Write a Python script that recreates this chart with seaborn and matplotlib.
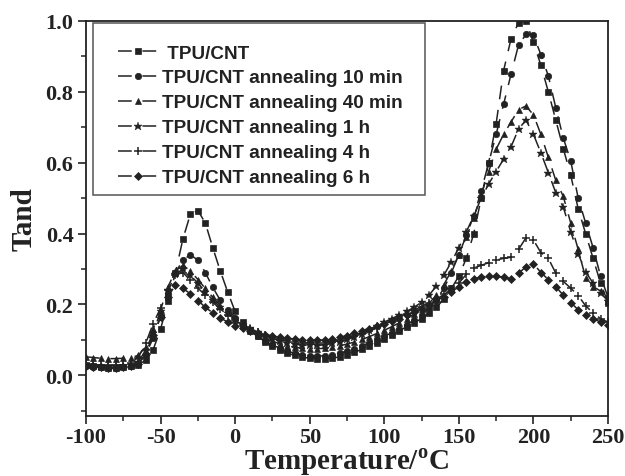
import matplotlib
matplotlib.use("Agg")
import matplotlib.pyplot as plt
from matplotlib.patches import Rectangle
from matplotlib.ticker import MultipleLocator
import seaborn as sns

# Temperature grid (°C) shared by all six DMA runs
temperature = list(range(-100, 255, 5))

tpu_cnt = [
    0.028, 0.025, 0.022, 0.021, 0.021, 0.022, 0.025, 0.030,
    0.042, 0.072, 0.130, 0.210, 0.290, 0.385, 0.455, 0.465, 0.430, 0.360, 0.295, 0.235,
    0.180, 0.150, 0.128, 0.110, 0.095, 0.082, 0.071, 0.062, 0.056, 0.051,
    0.048, 0.046, 0.046, 0.048, 0.052, 0.058, 0.065, 0.073, 0.082, 0.092,
    0.102, 0.113, 0.125, 0.137, 0.148, 0.160, 0.175, 0.192, 0.215, 0.245,
    0.280, 0.330, 0.400, 0.500, 0.600, 0.710, 0.860, 0.950, 0.995, 1.000,
    0.940, 0.875, 0.800, 0.720, 0.640, 0.565, 0.470, 0.400, 0.330, 0.260, 0.205,
]
anneal_10min = [
    0.026, 0.024, 0.022, 0.021, 0.021, 0.022, 0.025, 0.032,
    0.058, 0.105, 0.165, 0.230, 0.290, 0.325, 0.340, 0.325, 0.290, 0.248, 0.212, 0.185,
    0.163, 0.143, 0.125, 0.110, 0.097, 0.086, 0.076, 0.068, 0.062, 0.058,
    0.055, 0.054, 0.055, 0.058, 0.062, 0.068, 0.075, 0.083, 0.092, 0.101,
    0.110, 0.120, 0.131, 0.143, 0.155, 0.170, 0.190, 0.215, 0.245, 0.290,
    0.340, 0.395, 0.450, 0.520, 0.600, 0.680, 0.765, 0.850, 0.932, 0.962,
    0.960, 0.905, 0.845, 0.755, 0.670, 0.605, 0.500, 0.430, 0.360, 0.280, 0.220,
]
anneal_40min = [
    0.052, 0.050, 0.048, 0.047, 0.047, 0.048, 0.050, 0.056,
    0.080, 0.130, 0.185, 0.250, 0.295, 0.310, 0.295, 0.270, 0.245, 0.220, 0.196, 0.175,
    0.156, 0.140, 0.126, 0.114, 0.104, 0.096, 0.089, 0.083, 0.079, 0.076,
    0.075, 0.075, 0.076, 0.079, 0.083, 0.088, 0.094, 0.101, 0.109, 0.118,
    0.127, 0.137, 0.148, 0.160, 0.172, 0.186, 0.203, 0.226, 0.256, 0.295,
    0.340, 0.390, 0.445, 0.510, 0.575, 0.638, 0.680, 0.715, 0.750, 0.760,
    0.735, 0.680, 0.615, 0.550, 0.505, 0.430, 0.355, 0.275, 0.250, 0.238, 0.228,
]
anneal_1h = [
    0.030, 0.028, 0.027, 0.026, 0.026, 0.027, 0.030, 0.038,
    0.070, 0.120, 0.180, 0.240, 0.285, 0.300, 0.282, 0.260, 0.236, 0.212, 0.192, 0.175,
    0.160, 0.146, 0.133, 0.122, 0.112, 0.104, 0.097, 0.092, 0.088, 0.085,
    0.084, 0.084, 0.086, 0.090, 0.095, 0.101, 0.108, 0.117, 0.127, 0.138,
    0.150, 0.160, 0.170, 0.180, 0.192, 0.206, 0.226, 0.252, 0.283, 0.320,
    0.360, 0.405, 0.450, 0.500, 0.540, 0.575, 0.610, 0.645, 0.695, 0.720,
    0.680, 0.628, 0.572, 0.515, 0.475, 0.405, 0.343, 0.292, 0.260, 0.232, 0.210,
]
anneal_4h = [
    0.032, 0.030, 0.029, 0.028, 0.028, 0.030, 0.035, 0.050,
    0.090, 0.145, 0.190, 0.240, 0.283, 0.290, 0.268, 0.246, 0.226, 0.206, 0.187, 0.171,
    0.156, 0.142, 0.131, 0.121, 0.113, 0.106, 0.101, 0.097, 0.094, 0.092,
    0.091, 0.091, 0.092, 0.095, 0.099, 0.104, 0.110, 0.117, 0.125, 0.134,
    0.144, 0.154, 0.164, 0.174, 0.184, 0.194, 0.204, 0.215, 0.228, 0.243,
    0.260, 0.285, 0.303, 0.310, 0.318, 0.325, 0.330, 0.333, 0.355, 0.388,
    0.382, 0.346, 0.330, 0.288, 0.265, 0.246, 0.225, 0.196, 0.176, 0.160, 0.150,
]
anneal_6h = [
    0.026, 0.024, 0.022, 0.021, 0.021, 0.022, 0.025, 0.032,
    0.060, 0.115, 0.165, 0.222, 0.255, 0.245, 0.230, 0.211, 0.192, 0.176, 0.162, 0.150,
    0.140, 0.132, 0.126, 0.120, 0.115, 0.111, 0.107, 0.104, 0.102, 0.100,
    0.099, 0.099, 0.100, 0.103, 0.107, 0.112, 0.118, 0.125, 0.131, 0.138,
    0.145, 0.152, 0.160, 0.169, 0.178, 0.188, 0.198, 0.210, 0.222, 0.235,
    0.250, 0.264, 0.272, 0.277, 0.280, 0.280, 0.277, 0.272, 0.288, 0.306,
    0.315, 0.290, 0.270, 0.250, 0.226, 0.205, 0.185, 0.170, 0.160, 0.150, 0.143,
]

series_labels = [
    " TPU/CNT",
    "TPU/CNT annealing 10 min",
    "TPU/CNT annealing 40 min",
    "TPU/CNT annealing 1 h",
    "TPU/CNT annealing 4 h",
    "TPU/CNT annealing 6 h",
]
series_values = [tpu_cnt, anneal_10min, anneal_40min, anneal_1h, anneal_4h, anneal_6h]
x_ticks = [-100, -50, 0, 50, 100, 150, 200, 250]
y_ticks = [0.0, 0.2, 0.4, 0.6, 0.8, 1.0]

# marker, marker size, marker edge width
marker_styles = [("s", 4.2, 0.5), ("o", 4.6, 0.5), ("^", 5.0, 0.5),
                 ("*", 6.4, 0.3), ("+", 6.2, 1.1), ("D", 4.2, 0.5)]

sns.set_style("ticks")
ink = "#222222"
plt.rcParams.update({
    "font.family": ["Liberation Serif", "DejaVu Serif"],
    "font.weight": "bold",
    "mathtext.fontset": "custom",
    "mathtext.rm": "Liberation Serif:bold",
    "mathtext.bf": "Liberation Serif:bold",
    "axes.linewidth": 1.3,
    "axes.edgecolor": ink,
    "xtick.color": ink,
    "ytick.color": ink,
})

fig = plt.figure(figsize=(6.25, 4.77), dpi=100)
ax = fig.add_axes([0.1376, 0.1258, 0.8352, 0.8281])

for label, values, (mk, ms, mew) in zip(series_labels, series_values, marker_styles):
    sns.lineplot(x=temperature, y=values, ax=ax, label=label, color=ink,
                 marker=mk, markersize=ms, markeredgewidth=mew,
                 markeredgecolor=ink, markerfacecolor=ink,
                 linewidth=1.1, sort=False)

for line in ax.lines:
    line.set_linestyle((0, (9, 7)))

ax.set_xlim(-100, 250)
ax.set_ylim(-0.115, 1.0)
ax.set_xticks(x_ticks)
ax.set_yticks(y_ticks)
ax.xaxis.set_minor_locator(MultipleLocator(25))
ax.yaxis.set_minor_locator(MultipleLocator(0.1))
ax.set_xticklabels([str(v) for v in x_ticks])
ax.set_yticklabels([f"{v:.1f}" for v in y_ticks])
ax.tick_params(axis="both", which="major", direction="out", length=6,
               width=1.2, labelsize=16, pad=3)
ax.tick_params(axis="x", which="major", pad=2)
ax.tick_params(axis="both", which="minor", direction="out", length=3.5, width=1.1)
for lbl in ax.get_xticklabels() + ax.get_yticklabels():
    lbl.set_fontweight("bold")
    lbl.set_color(ink)

ax.set_xlabel(r"Temperature/$^{\mathbf{o}}$C", fontsize=21, fontweight="bold",
              color=ink, labelpad=-1)
ax.set_ylabel("Tand", fontsize=21, fontweight="bold", color=ink, labelpad=6)

handles, labels = ax.get_legend_handles_labels()
if ax.get_legend() is not None:
    ax.get_legend().remove()
leg = ax.legend(handles, labels, loc="upper left", bbox_to_anchor=(0.0613, 0.941),
                frameon=False, borderpad=0, borderaxespad=0,
                handlelength=2.1, handletextpad=0.25, labelspacing=0.41,
                prop={"family": "Liberation Sans", "weight": "bold", "size": 13.6})
for t in leg.get_texts():
    t.set_color(ink)

ax.add_patch(Rectangle((0.0134, 0.5595), 0.6356, 0.4355, transform=ax.transAxes,
                       fill=False, edgecolor="#555555", linewidth=1.1, zorder=5))

fig.savefig("out.png", dpi=100)
